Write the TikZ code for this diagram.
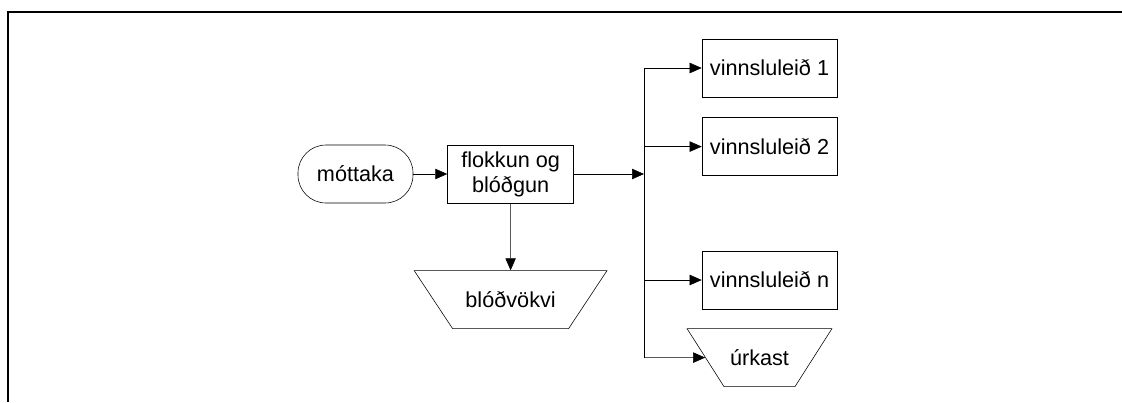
\documentclass[tikz,border=0pt]{standalone}
\usepackage{fontspec}
\setmainfont{Liberation Sans}
\usetikzlibrary{
  arrows.meta,
  positioning,      % right=of ...
  shapes.geometric, % trapezium
}
\def\myboxheight{1.45cm}
\tikzset{
  font=\fontsize{15.4}{17.8}\selectfont,
  line width=0.6pt,
  >={Triangle[length=0.3cm,width=0.26cm]},
  my box/.style={
    draw,
    rectangle,
    align=center,
    inner sep=0.5mm,
    minimum height=\myboxheight
  },
  my terminal/.style={
    my box,
    rounded corners=0.7cm
  },
  % size comes from the text box: short side = text width
  my store/.style={
    draw,
    trapezium,
    shape border rotate=180,
    trapezium left angle=56.5,
    trapezium right angle=56.5,
    inner sep=0pt,
    align=center,
    text height=0.915cm,
    text depth=0.535cm
  },
  frame/.style={
    line width=1.4pt
  }
}
\begin{document}
\begin{tikzpicture}[x=0.025cm,y=-0.025cm]
\useasboundingbox (0,0) rectangle (1122,402);
\draw[frame] (1122,12) -- (8,12) -- (8,402);
\node[my terminal,minimum width=2.875cm] (mottaka) at (355.5,174) {móttaka};
\node[my box,minimum width=3.15cm] (flokkun) [right=0.85cm of mottaka] {flokkun og\\blóðgun};
\node[my store,text width=2.9cm] (blodvokvi) [below=1.675cm of flokkun] {blóðvökvi};
\coordinate (bus) at (644,174);
\node[my box,minimum width=3.375cm] (leid1) at (769.5,68) {vinnsluleið 1};
\node[my box,minimum width=3.375cm] (leid2) [below=0.5cm of leid1] {vinnsluleið 2};
\node[my box,minimum width=3.375cm] (leidn) at (769.5,280) {vinnsluleið n};
\node[my store,text width=1.775cm,trapezium left angle=57.5,trapezium right angle=57.5]
  (urkast) [below=0.475cm of leidn,xshift=-0.25cm] {úrkast};
\path[->] (mottaka) edge (flokkun)
          (flokkun) edge (blodvokvi)
          (flokkun) edge (bus);
\draw (bus |- leid1) -- (bus |- urkast);
\path[->] (bus |- leid1)  edge (leid1)
          (bus |- leid2)  edge (leid2)
          (bus |- leidn)  edge (leidn)
          (bus |- urkast) edge (urkast);
\end{tikzpicture}
\end{document}
